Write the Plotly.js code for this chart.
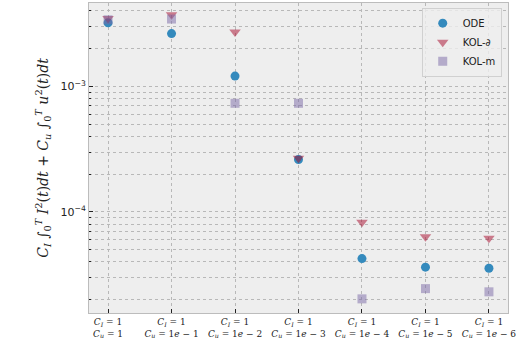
<!DOCTYPE html>
<html>
<head>
<meta charset="utf-8">
<script src="https://cdn.plot.ly/plotly-3.0.1.min.js"></script>
<style>html,body{margin:0;padding:0;background:#fff;}#chart{width:522px;height:349px;}</style>
</head>
<body>
<div id="chart"></div>
<script>
var categories = [
  "<i>C<sub>I</sub></i> = 1<br><i>C<sub>u</sub></i> = 1",
  "<i>C<sub>I</sub></i> = 1<br><i>C<sub>u</sub></i> = 1<i>e</i> − 1",
  "<i>C<sub>I</sub></i> = 1<br><i>C<sub>u</sub></i> = 1<i>e</i> − 2",
  "<i>C<sub>I</sub></i> = 1<br><i>C<sub>u</sub></i> = 1<i>e</i> − 3",
  "<i>C<sub>I</sub></i> = 1<br><i>C<sub>u</sub></i> = 1<i>e</i> − 4",
  "<i>C<sub>I</sub></i> = 1<br><i>C<sub>u</sub></i> = 1<i>e</i> − 5",
  "<i>C<sub>I</sub></i> = 1<br><i>C<sub>u</sub></i> = 1<i>e</i> − 6"
];
var odeValues  = [3.22e-3, 2.64e-3, 1.21e-3, 2.62e-4, 4.25e-5, 3.63e-5, 3.56e-5];
var kolDValues = [3.49e-3, 3.73e-3, 2.72e-3, 2.68e-4, 8.27e-5, 6.35e-5, 6.16e-5];
var kolMValues = [3.40e-3, 3.45e-3, 7.35e-4, 7.35e-4, 2.03e-5, 2.45e-5, 2.31e-5];
var seriesNames = ["ODE", "KOL-∂", "KOL-m"];
var decadeVals = [1e-4, 1e-3];
var decadeLabels = ["10<sup>−4</sup>", "10<sup>−3</sup>"];

var xIdx = categories.map(function(_, i){ return i; });

var minorVals = [];
for (var e = -5; e <= -3; e++) {
  for (var m = 2; m <= 9; m++) {
    minorVals.push(m * Math.pow(10, e));
  }
}

var traces = [
  {x: xIdx, y: odeValues, name: seriesNames[0], type: "scatter", mode: "markers",
   marker: {symbol: "circle", size: 9, color: "#348ABD"}},
  {x: xIdx, y: kolDValues, name: seriesNames[1], type: "scatter", mode: "markers",
   marker: {symbol: "triangle-down", size: 10, color: "rgba(166,6,40,0.5)"}},
  {x: xIdx, y: kolMValues, name: seriesNames[2], type: "scatter", mode: "markers",
   marker: {symbol: "square", size: 9, color: "rgba(122,104,166,0.5)"}}
];

var layout = {
  width: 522, height: 349,
  margin: {l: 89, r: 14, t: 3, b: 36},
  paper_bgcolor: "#ffffff",
  plot_bgcolor: "#eeeeee",
  showlegend: true,
  legend: {
    x: 0.985, y: 0.985, xanchor: "right", yanchor: "top",
    bgcolor: "rgba(238,238,238,0.8)", bordercolor: "#d0d0d0", borderwidth: 1,
    font: {family: "DejaVu Sans", size: 10, color: "#222"},
    tracegroupgap: 0
  },
  xaxis: {
    range: [-0.3, 6.3],
    tickmode: "array", tickvals: xIdx, ticktext: categories,
    tickfont: {family: "DejaVu Serif", size: 9, color: "#222"},
    ticks: "inside", ticklen: 4, tickcolor: "#222",
    showgrid: true, gridcolor: "#b8b8b8", griddash: "dot", gridwidth: 1,
    showline: true, linecolor: "#bcbcbc", linewidth: 1, mirror: true,
    zeroline: false
  },
  yaxis: {
    type: "log",
    range: [Math.log10(1.566e-5), Math.log10(4.63e-3)],
    tickmode: "array", tickvals: decadeVals, ticktext: decadeLabels,
    tickfont: {family: "DejaVu Sans", size: 11, color: "#222"},
    ticks: "inside", ticklen: 4, tickcolor: "#222",
    showgrid: true, gridcolor: "#b8b8b8", griddash: "dot", gridwidth: 1,
    minor: {
      tickmode: "array", tickvals: minorVals,
      ticks: "inside", ticklen: 2, tickcolor: "#222",
      showgrid: true, gridcolor: "#b8b8b8", griddash: "dot", gridwidth: 1
    },
    showline: true, linecolor: "#bcbcbc", linewidth: 1, mirror: true,
    zeroline: false,
    title: {
      text: "<i>C<sub>I</sub></i> ∫<sub>0</sub><sup><i>T</i></sup> <i>I</i><sup>2</sup>(<i>t</i>)<i>dt</i> + <i>C<sub>u</sub></i> ∫<sub>0</sub><sup><i>T</i></sup> <i>u</i><sup>2</sup>(<i>t</i>)<i>dt</i>",
      font: {family: "DejaVu Serif", size: 14, color: "#222"},
      standoff: 8
    }
  }
};

Plotly.newPlot("chart", traces, layout, {displayModeBar: false, staticPlot: true});
</script>
</body>
</html>
